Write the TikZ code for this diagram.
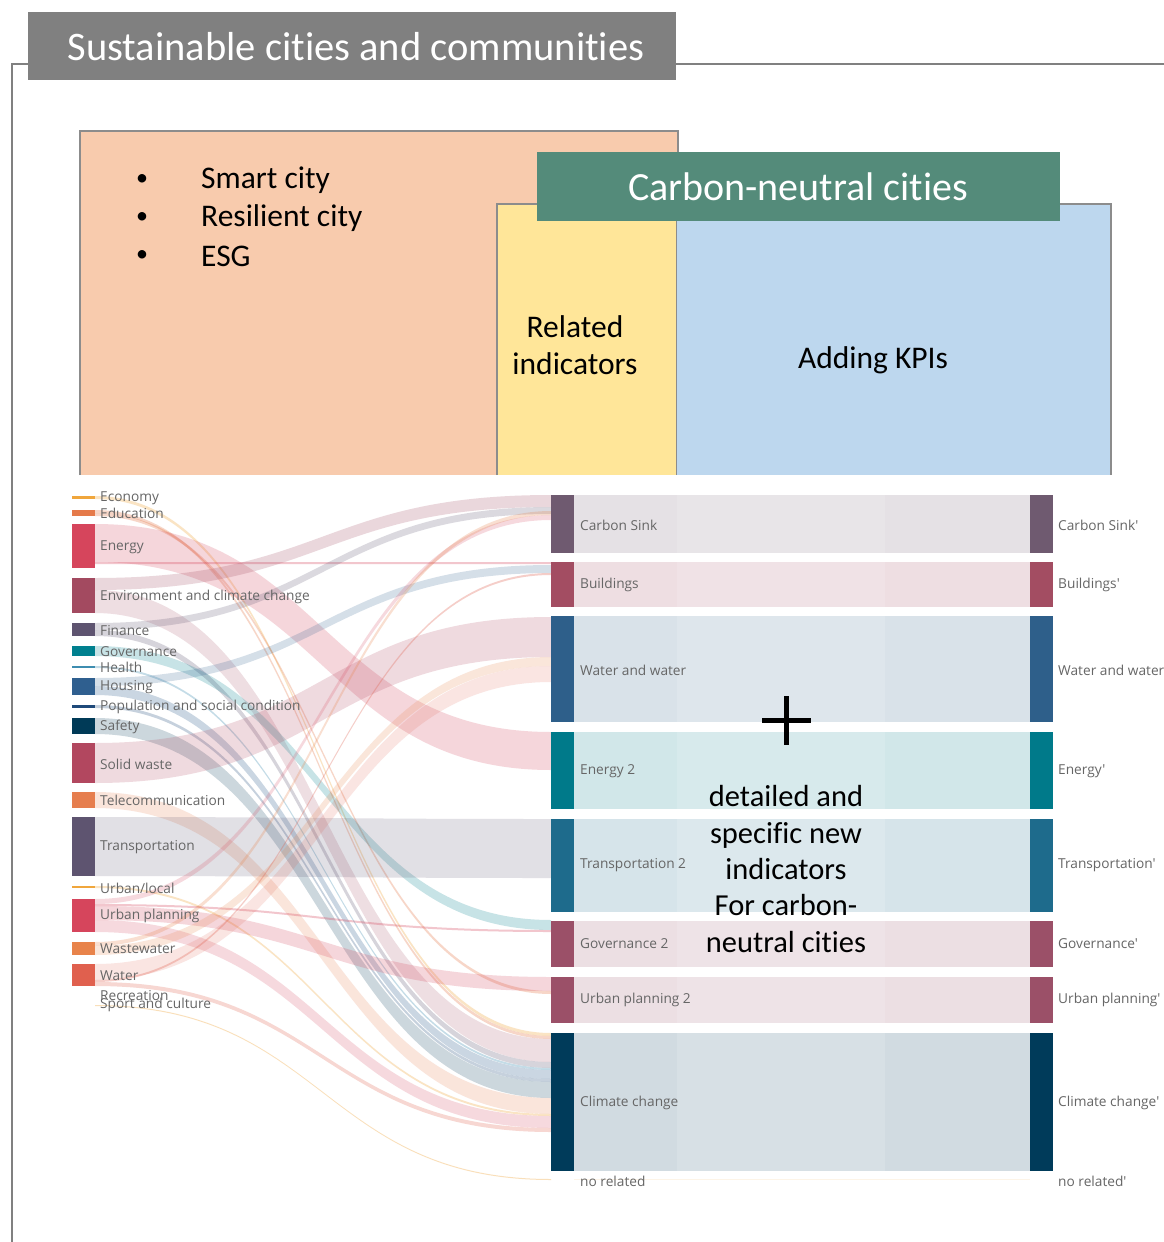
\documentclass[tikz,border=0pt]{standalone}
\usepackage{fontspec}
\setmainfont{Carlito}[Ligatures=NoCommon]
\newfontfamily\lblfont{Open Sans}
\definecolor{framegray}{HTML}{808080}
\definecolor{boxgray}{HTML}{8C8C8C}
\definecolor{orangefill}{HTML}{F8CBAD}
\definecolor{yellowfill}{HTML}{FFE699}
\definecolor{bluefill}{HTML}{BDD7EE}
\definecolor{greenfill}{HTML}{548B7A}
\definecolor{lblgray}{HTML}{666666}
\definecolor{cEco}{HTML}{F0A63C}
\definecolor{cEdu}{HTML}{E57A4A}
\definecolor{cEne}{HTML}{D6455C}
\definecolor{cEnv}{HTML}{A34A60}
\definecolor{cFin}{HTML}{5E5470}
\definecolor{cGov}{HTML}{00808F}
\definecolor{cHea}{HTML}{3E8DB0}
\definecolor{cHou}{HTML}{2F5F8F}
\definecolor{cPop}{HTML}{1F4A7A}
\definecolor{cSaf}{HTML}{003A57}
\definecolor{cSol}{HTML}{B2475F}
\definecolor{cTel}{HTML}{E67E4E}
\definecolor{cTra}{HTML}{5E5470}
\definecolor{cUrp}{HTML}{D6455C}
\definecolor{cWaw}{HTML}{E8834A}
\definecolor{cWat}{HTML}{E0604E}
\definecolor{cCS}{HTML}{6F5A70}
\definecolor{cBu}{HTML}{A34D62}
\definecolor{cWw}{HTML}{2E5F8A}
\definecolor{cEt}{HTML}{007A8A}
\definecolor{cTt}{HTML}{1E6B8C}
\definecolor{cGt}{HTML}{9B5068}
\definecolor{cCC}{HTML}{003B5A}
\newcommand\sflow[5]{\fill[#5] (95,#1) .. controls (323,#1) and (323,#3) .. (551,#3) -- (551,#4) .. controls (323,#4) and (323,#2) .. (95,#2) -- cycle;}
\newcommand\mband[3]{\fill[#3, fill opacity=0.18] (574,#1) rectangle (1030,#2);\fill[#3] (551,#1) rectangle (574,#2);\fill[#3] (1030,#1) rectangle (1053,#2);}
\tikzset{
  boxborder/.style={draw=boxgray, line width=1.8pt},
  boxtext/.style={font=\fontsize{31.5}{37}\selectfont, text=black, inner sep=0pt},
  lbl/.style={font=\lblfont\fontsize{13.7}{15}\selectfont, text=lblgray, anchor=west, inner sep=0pt},
}
\begin{document}
\begin{tikzpicture}[x=1pt,y=-1pt]
\useasboundingbox (0,0) rectangle (1164,1242);
\fill[white] (0,0) rectangle (1164,1242);
% outer frame
\draw[framegray, line width=2pt] (1164,64) -- (12,64) -- (12,1242);
\node[fill=framegray, minimum width=648pt, minimum height=68pt, anchor=north west, inner sep=0pt] (title) at (28,12) {};
\node[text=white, font=\fontsize{40.5}{46}\selectfont, inner sep=0pt] (titletext) at (356,47) {Sustainable cities and communities};
% boxes
\fill[orangefill] (80,131) rectangle (678,475);
\draw[boxborder] (80,475) -- (80,131) -- (678,131) -- (678,204);
\fill[yellowfill] (497,204) rectangle (677,475);
\draw[boxborder] (497,475) -- (497,204) -- (677,204) -- (677,475);
\fill[bluefill] (677,204) rectangle (1111,475);
\draw[boxborder] (677,204) -- (1111,204) -- (1111,475);
\node[fill=greenfill, minimum width=523pt, minimum height=69pt, anchor=north west, inner sep=0pt] (green) at (537,152) {};
\node[text=white, font=\fontsize{40}{46}\selectfont, inner sep=0pt] (greentext) at (798,187) {Carbon-neutral cities};
\node[boxtext, font=\fontsize{24}{30}\selectfont] (b1) at (142,180) {•};
\node[boxtext, font=\fontsize{24}{30}\selectfont] (b2) at (142,218) {•};
\node[boxtext, font=\fontsize{24}{30}\selectfont] (b3) at (142,256) {•};
\node[boxtext, anchor=west] (t1) at (201,180) {Smart city};
\node[boxtext, anchor=west] (t2) at (201,218) {Resilient city};
\node[boxtext, anchor=west] (t3) at (201,256) {ESG};
\node[boxtext, align=center, font=\fontsize{31.5}{37}\selectfont] (rel) at (575,345) {Related\\indicators};
\node[boxtext] (kpi) at (873,360) {Adding KPIs};
% sankey flows
\sflow{496}{499}{1033}{1036}{cEco, fill opacity=0.3}
\sflow{510}{513}{1036}{1039}{cEdu, fill opacity=0.3}
\sflow{513}{516}{991}{994}{cEdu, fill opacity=0.3}
\sflow{524}{562}{732}{770}{cEne, fill opacity=0.22}
\sflow{562}{564}{562}{564}{cEne, fill opacity=0.3}
\sflow{578}{590}{495}{507}{cEnv, fill opacity=0.22}
\sflow{590}{613}{1039}{1062}{cEnv, fill opacity=0.18}
\sflow{623}{630}{507}{514}{cFin, fill opacity=0.22}
\sflow{630}{636}{1062}{1068}{cFin, fill opacity=0.25}
\sflow{646}{656}{920}{930}{cGov, fill opacity=0.22}
\sflow{666}{668}{1068}{1070}{cHea, fill opacity=0.3}
\sflow{678}{686}{565}{573}{cHou, fill opacity=0.2}
\sflow{686}{695}{1070}{1079}{cHou, fill opacity=0.25}
\sflow{705}{708}{1079}{1082}{cPop, fill opacity=0.25}
\sflow{718}{734}{1082}{1098}{cSaf, fill opacity=0.2}
\sflow{743}{783}{617}{657}{cSol, fill opacity=0.2}
\sflow{792}{808}{1098}{1114}{cTel, fill opacity=0.2}
\sflow{817}{876}{819}{878}{cTra, fill opacity=0.18}
\sflow{886}{888}{1114}{1116}{cEco, fill opacity=0.3}
\sflow{899}{904}{515}{520}{cUrp, fill opacity=0.2}
\sflow{904}{906}{930}{932}{cUrp, fill opacity=0.3}
\sflow{906}{920}{977}{991}{cUrp, fill opacity=0.22}
\sflow{920}{932}{1116}{1128}{cUrp, fill opacity=0.2}
\sflow{942}{946}{511}{515}{cWaw, fill opacity=0.25}
\sflow{946}{955}{657}{666}{cWaw, fill opacity=0.2}
\sflow{964}{980}{666}{682}{cWat, fill opacity=0.16}
\sflow{980}{982}{573}{575}{cWat, fill opacity=0.3}
\sflow{982}{986}{1128}{1132}{cWat, fill opacity=0.25}
\sflow{1005}{1006}{1179}{1180}{cEco, fill opacity=0.35}
% left bars
\fill[cEco] (72,496) rectangle (95,499);
\fill[cEdu] (72,510) rectangle (95,516);
\fill[cEne] (72,524) rectangle (95,568);
\fill[cEnv] (72,578) rectangle (95,613);
\fill[cFin] (72,623) rectangle (95,636);
\fill[cGov] (72,646) rectangle (95,656);
\fill[cHea] (72,666) rectangle (95,668);
\fill[cHou] (72,678) rectangle (95,695);
\fill[cPop] (72,705) rectangle (95,708);
\fill[cSaf] (72,718) rectangle (95,734);
\fill[cSol] (72,743) rectangle (95,783);
\fill[cTel] (72,792) rectangle (95,808);
\fill[cTra] (72,817) rectangle (95,876);
\fill[cEco] (72,886) rectangle (95,888);
\fill[cUrp] (72,899) rectangle (95,932);
\fill[cWaw] (72,942) rectangle (95,955);
\fill[cWat] (72,964) rectangle (95,986);
% middle and right nodes with bands
\mband{495}{553}{cCS}
\mband{562}{607}{cBu}
\mband{616}{722}{cWw}
\mband{732}{809}{cEt}
\mband{819}{912}{cTt}
\mband{921}{967}{cGt}
\mband{977}{1023}{cGt}
\mband{1033}{1171}{cCC}
\fill[cEco, fill opacity=0.12] (574,1179) rectangle (1030,1180);
\fill[white, fill opacity=0.15] (677,495) rectangle (885,1171);
% left labels
\node[lbl] (lEco) at (100,498) {Economy};
\node[lbl] (lEdu) at (100,513) {Education};
\node[lbl] (lEne) at (100,547) {Energy};
\node[lbl] (lEnv) at (100,597) {Environment and climate change};
\node[lbl] (lFin) at (100,631) {Finance};
\node[lbl] (lGov) at (100,652) {Governance};
\node[lbl] (lHea) at (100,667) {Health};
\node[lbl] (lHou) at (100,687) {Housing};
\node[lbl] (lPop) at (100,707) {Population and social condition};
\node[lbl] (lSaf) at (100,727) {Safety};
\node[lbl] (lSol) at (100,764) {Solid waste};
\node[lbl] (lTel) at (100,800) {Telecommunication};
\node[lbl] (lTra) at (100,847) {Transportation};
\node[lbl] (lUrl) at (100,888) {Urban/local};
\node[lbl] (lUrp) at (100,916) {Urban planning};
\node[lbl] (lWaw) at (100,949) {Wastewater};
\node[lbl] (lWat) at (100,976) {Water};
\node[lbl] (lRec) at (100,996) {Recreation};
\node[lbl] (lSpo) at (100,1005) {Sport and culture};
% middle labels
\node[lbl] (mCS) at (580,525) {Carbon Sink};
\node[lbl] (mBu) at (580,585) {Buildings};
\node[lbl] (mWw) at (580,670) {Water and water};
\node[lbl] (mEt) at (580,771) {Energy 2};
\node[lbl] (mTt) at (580,865) {Transportation 2};
\node[lbl] (mGt) at (580,944) {Governance 2};
\node[lbl] (mUt) at (580,1000) {Urban planning 2};
\node[lbl] (mCC) at (580,1103) {Climate change};
\node[lbl] (mNo) at (580,1181) {no related};
% right labels
\node[lbl] (rCS) at (1058,525) {Carbon Sink'};
\node[lbl] (rBu) at (1058,585) {Buildings'};
\node[lbl] (rWw) at (1058,670) {Water and water};
\node[lbl] (rEt) at (1058,771) {Energy'};
\node[lbl] (rTt) at (1058,865) {Transportation'};
\node[lbl] (rGt) at (1058,944) {Governance'};
\node[lbl] (rUt) at (1058,1000) {Urban planning'};
\node[lbl] (rCC) at (1058,1103) {Climate change'};
\node[lbl] (rNo) at (1058,1181) {no related'};
% plus and text
\draw[black, line width=5pt] (762,720) -- (811,720);
\draw[black, line width=5pt] (786,696) -- (786,745);
\node[boxtext, align=center, font=\fontsize{30.5}{36.3}\selectfont] (newind) at (786,869) {detailed and\\specific new\\indicators\\For carbon-\\neutral cities};
\end{tikzpicture}
\end{document}
